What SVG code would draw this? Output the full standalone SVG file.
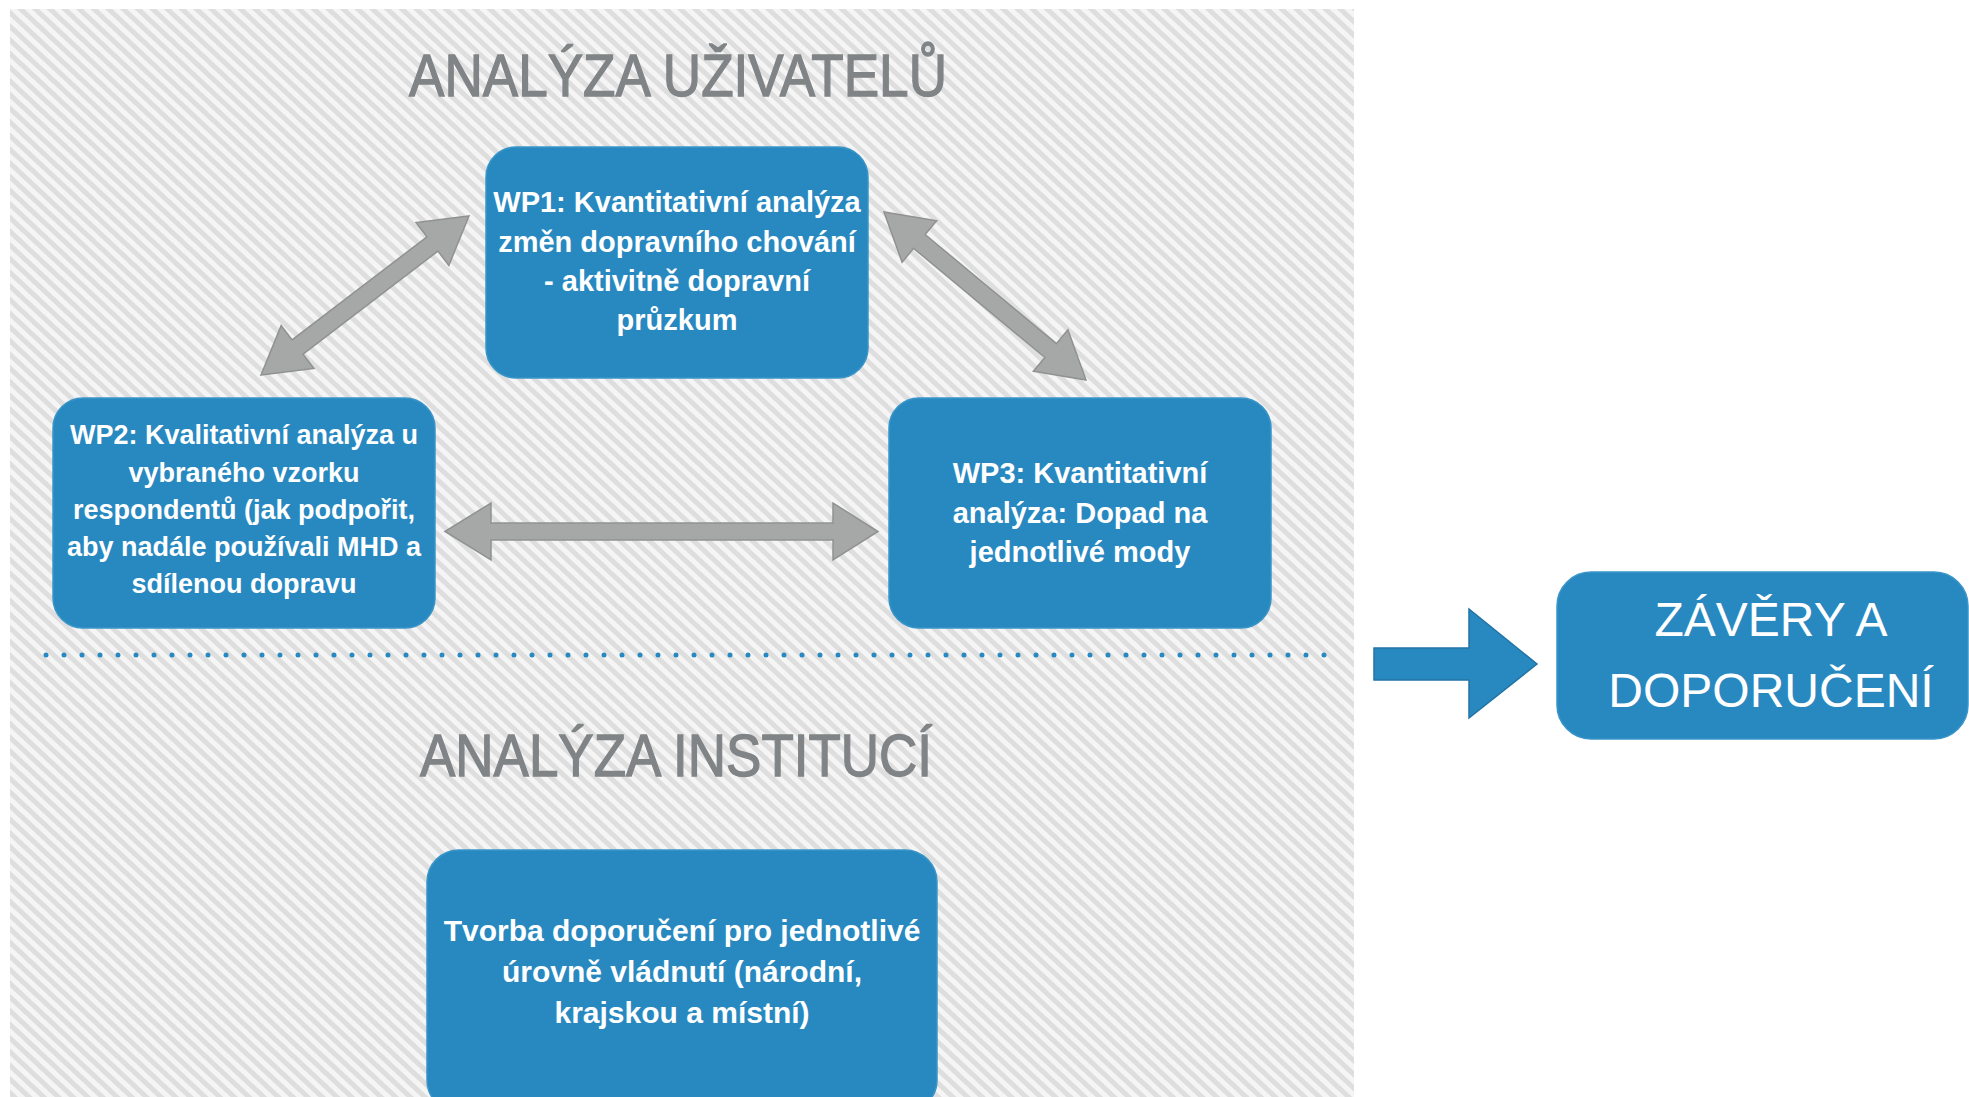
<svg xmlns="http://www.w3.org/2000/svg" width="1969" height="1097" viewBox="0 0 1969 1097">
  <style>
    .title { font-family: "Liberation Sans", Arial, sans-serif; font-size: 60px; fill: #808486; stroke: #808486; stroke-width: 1.3; text-anchor: middle; }
    .box { fill: #2889c1; stroke: #3a95c8; stroke-width: 1.5; }
    .btxt { font-family: "Liberation Sans", Arial, sans-serif; font-weight: bold; fill: #ffffff; text-anchor: middle; }
    .big { font-family: "Liberation Sans", Arial, sans-serif; font-size: 48px; fill: #ffffff; text-anchor: middle; }
    .garrow { fill: #a6a8a7; stroke: #909291; stroke-width: 1.5; stroke-linejoin: miter; }
    .barrow { fill: #2889c1; stroke: #2373a5; stroke-width: 1.5; }
  </style>
  <defs>
    <pattern id="hatch" patternUnits="userSpaceOnUse" width="10" height="10" patternTransform="rotate(43)">
      <rect x="0" y="0" width="10" height="10" fill="#f5f5f5"/>
      <rect x="0" y="0" width="10" height="5" fill="#dedede"/>
    </pattern>
  </defs>
  <rect x="0" y="0" width="1969" height="1097" fill="#ffffff"/>
  <g id="background">
    <rect x="10" y="9" width="1344" height="1090" fill="url(#hatch)"/>
    <line x1="46" y1="655" x2="1334" y2="655" stroke="#2889c1" stroke-width="5" stroke-linecap="round" stroke-dasharray="0 18"/>
  </g>
  <g id="title-users">
    <text class="title" x="678" y="96" textLength="538" lengthAdjust="spacingAndGlyphs">ANALÝZA UŽIVATELŮ</text>
  </g>
  <g id="title-institutions">
    <text class="title" x="676" y="776" font-size="58" textLength="512" lengthAdjust="spacingAndGlyphs">ANALÝZA INSTITUCÍ</text>
  </g>
  <g id="connectors">
    <polygon class="garrow" points="261,375 313.95,368.51 303.02,354.21 437.92,251.09 448.85,265.39 469,216 416.05,222.49 426.98,236.79 292.08,339.91 281.15,325.61"/>
    <polygon class="garrow" points="884,212 902.10,262.18 913.61,248.34 1044.87,357.50 1033.36,371.34 1086,380 1067.90,329.82 1056.39,343.66 925.13,234.50 936.64,220.66"/>
    <polygon class="garrow" points="445,531.5 491,503 491,523 833,523 833,503 878,531.5 833,560 833,540 491,540 491,560"/>
    <polygon class="barrow" points="1374,648 1469,648 1469,609 1537,664 1469,718 1469,680 1374,680"/>
  </g>
  <g id="wp1">
    <rect class="box" x="486" y="147" width="382" height="231" rx="30" ry="30"/>
    <text class="btxt" font-size="29" x="677" y="212">WP1: Kvantitativní analýza</text>
    <text class="btxt" font-size="29" x="677" y="252">změn dopravního chování</text>
    <text class="btxt" font-size="29" x="677" y="291">- aktivitně dopravní</text>
    <text class="btxt" font-size="29" x="677" y="330">průzkum</text>
  </g>
  <g id="wp2">
    <rect class="box" x="53" y="398" width="382" height="230" rx="30" ry="30"/>
    <text class="btxt" font-size="27" x="244" y="444">WP2: Kvalitativní analýza u</text>
    <text class="btxt" font-size="27" x="244" y="482">vybraného vzorku</text>
    <text class="btxt" font-size="27" x="244" y="519">respondentů (jak podpořit,</text>
    <text class="btxt" font-size="27" x="244" y="556">aby nadále používali MHD a</text>
    <text class="btxt" font-size="27" x="244" y="593">sdílenou dopravu</text>
  </g>
  <g id="wp3">
    <rect class="box" x="889" y="398" width="382" height="230" rx="30" ry="30"/>
    <text class="btxt" font-size="29" x="1080" y="483">WP3: Kvantitativní</text>
    <text class="btxt" font-size="29" x="1080" y="523">analýza: Dopad na</text>
    <text class="btxt" font-size="29" x="1080" y="562">jednotlivé mody</text>
  </g>
  <g id="institutions">
    <rect class="box" x="427" y="850" width="510" height="262" rx="32" ry="32"/>
    <text class="btxt" font-size="30" x="682" y="941">Tvorba doporučení pro jednotlivé</text>
    <text class="btxt" font-size="30" x="682" y="982">úrovně vládnutí (národní,</text>
    <text class="btxt" font-size="30" x="682" y="1023">krajskou a místní)</text>
  </g>
  <g id="conclusions">
    <rect class="box" x="1557" y="572" width="411" height="167" rx="34" ry="34"/>
    <text class="big" x="1771" y="636">ZÁVĚRY A</text>
    <text class="big" x="1771" y="707">DOPORUČENÍ</text>
  </g>
</svg>
